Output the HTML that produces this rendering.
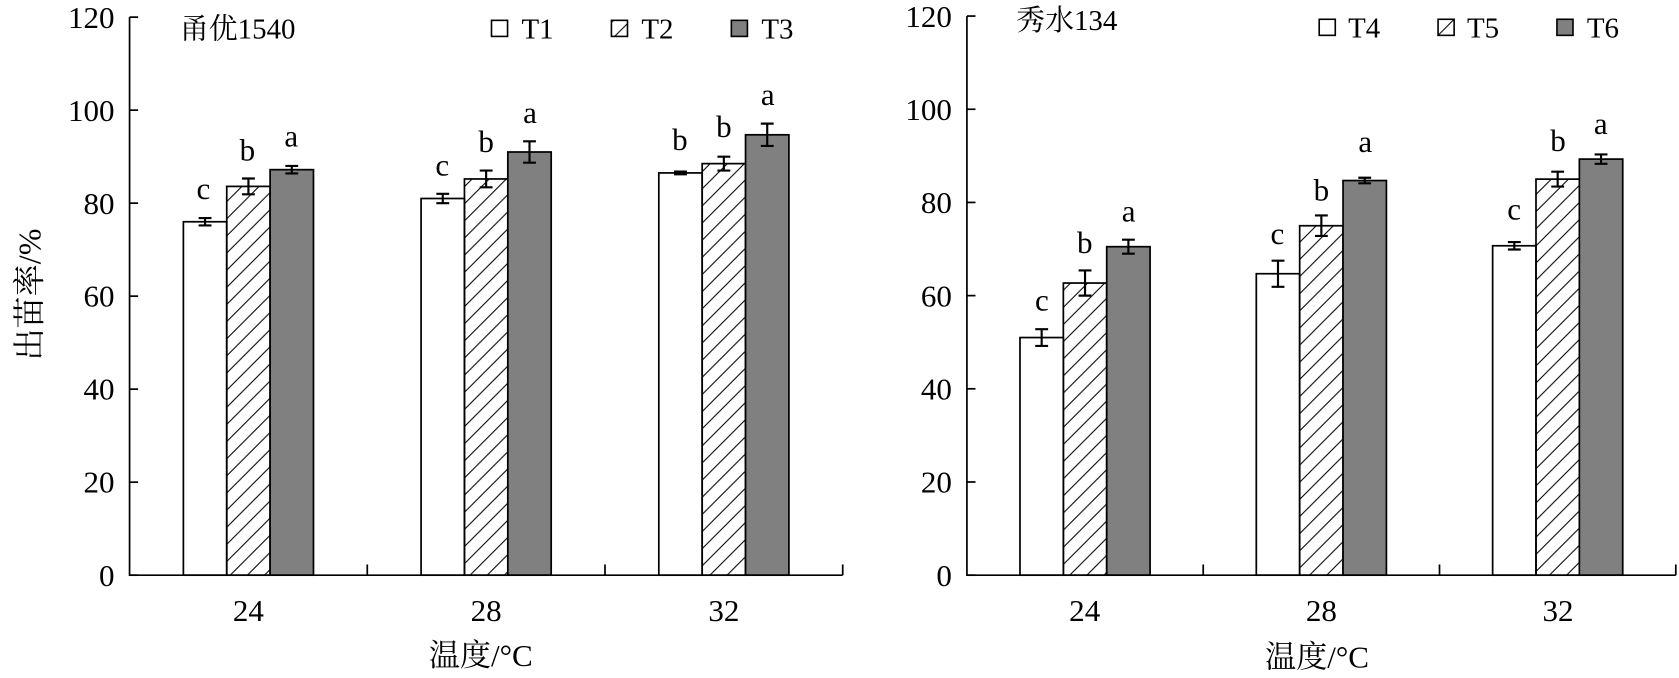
<!DOCTYPE html>
<html><head><meta charset="utf-8"><style>
html,body{margin:0;padding:0;background:#fff}
svg{display:block}
text{font-family:"Liberation Serif","Noto Serif CJK SC",serif;fill:#000}
</style></head><body>
<svg id="s" width="1679" height="678" viewBox="0 0 1568 633" preserveAspectRatio="none" xmlns="http://www.w3.org/2000/svg">
<defs>
<pattern id="h" patternUnits="userSpaceOnUse" width="16" height="16">
<path d="M-1,17 L17,-1 M-4,4 L4,-4 M12,20 L20,12" stroke="#000" stroke-width="1"/>
</pattern>
</defs>
<g id="bars"></g>
<g font-size="29" text-anchor="end">
<text x="107" y="547">0</text><text x="107" y="460">20</text><text x="107" y="373">40</text><text x="107" y="286">60</text><text x="107" y="200">80</text><text x="107" y="113">100</text><text x="107" y="26">120</text>
<text x="889" y="547">0</text><text x="889" y="460">20</text><text x="889" y="373">40</text><text x="889" y="286">60</text><text x="889" y="199">80</text><text x="889" y="112">100</text><text x="889" y="25">120</text>
</g>
<g font-size="29" text-anchor="middle">
<text x="232" y="580">24</text><text x="454" y="580">28</text><text x="676" y="580">32</text>
<text x="1013" y="580">24</text><text x="1234" y="580">28</text><text x="1455" y="580">32</text>
<text x="449" y="622">温度/°C</text><text x="1230" y="623">温度/°C</text>
<text x="190" y="186">c</text><text x="231" y="150">b</text><text x="272" y="137">a</text>
<text x="413" y="164">c</text><text x="454" y="142">b</text><text x="495" y="115">a</text>
<text x="635" y="140">b</text><text x="676" y="128">b</text><text x="717" y="98">a</text>
<text x="973" y="290">c</text><text x="1013" y="236">b</text><text x="1054" y="207">a</text>
<text x="1193" y="228">c</text><text x="1234" y="187">b</text><text x="1275" y="142">a</text>
<text x="1414" y="205">c</text><text x="1455" y="141">b</text><text x="1495" y="125">a</text>
</g>
<text font-size="30" transform="translate(38,275) rotate(-90)" text-anchor="middle">出苗率/%</text>
<g font-size="27">
<text x="168" y="36">甬优1540</text>
<text x="949" y="28">秀水134</text>
<text x="487" y="36">T1</text><text x="599" y="36">T2</text><text x="711" y="36">T3</text>
<text x="1259" y="35">T4</text><text x="1370" y="35">T5</text><text x="1482" y="35">T6</text>
</g>
<g stroke="#000" stroke-width="1.5">
<rect x="459" y="19" width="15" height="15" fill="#fff"/>
<rect x="571" y="19" width="15" height="15" fill="url(#h)"/>
<rect x="683" y="19" width="15" height="15" fill="#808080"/>
<rect x="1232" y="18" width="15" height="15" fill="#fff"/>
<rect x="1343" y="18" width="15" height="15" fill="url(#h)"/>
<rect x="1454" y="18" width="15" height="15" fill="#808080"/>
</g>
</svg>
<script>
var g=document.getElementById('bars'),ns='http://www.w3.org/2000/svg';
function el(t,a){var e=document.createElementNS(ns,t);for(var k in a)e.setAttribute(k,a[k]);g.appendChild(e);}
function panel(ax,right,top,centers,data){
 var b=537,k=(b-top)/120,w=40.5,fills=['#fff','url(#h)','#808080'];
 for(var c=0;c<3;c++)for(var i=0;i<3;i++){
  var v=data[c][i][0],e=data[c][i][1],x=centers[c]-60.75+i*w,y=b-k*v;
  el('rect',{x:x,y:y,width:w,height:b-y,fill:fills[i],stroke:'#000','stroke-width':1.6});
  var cx=x+w/2,y1=b-k*(v+e),y2=b-k*(v-e);
  el('path',{d:'M'+cx+','+y1+'V'+y2+'M'+(cx-6)+','+y1+'H'+(cx+6)+'M'+(cx-6)+','+y2+'H'+(cx+6),stroke:'#000','stroke-width':2,fill:'none'});
 }
 el('path',{d:'M'+ax+','+top+'V'+b+'H'+right,stroke:'#000','stroke-width':1.6,fill:'none'});
 for(var t=0;t<=6;t++){var yy=b-k*20*t;el('path',{d:'M'+ax+','+yy+'h8',stroke:'#000','stroke-width':1.6});}
 var cw=(right-ax)/3;
 for(var t=1;t<=3;t++){var xx=ax+cw*t;el('path',{d:'M'+xx+','+b+'v-10',stroke:'#000','stroke-width':1.6});}
}
panel(121,787,16,[232,454,676],[[[76,0.8],[83.6,1.7],[87.2,0.8]],[[81,1],[85.2,1.8],[91,2.3]],[[86.5,0.3],[88.5,1.5],[94.7,2.4]]]);
panel(903,1565,15,[1013.3,1234,1454.7],[[[51,1.8],[62.7,2.7],[70.5,1.5]],[[64.7,2.8],[75,2.2],[84.7,0.6]],[[70.7,0.8],[85,1.6],[89.3,1]]]);
</script>
</body></html>
